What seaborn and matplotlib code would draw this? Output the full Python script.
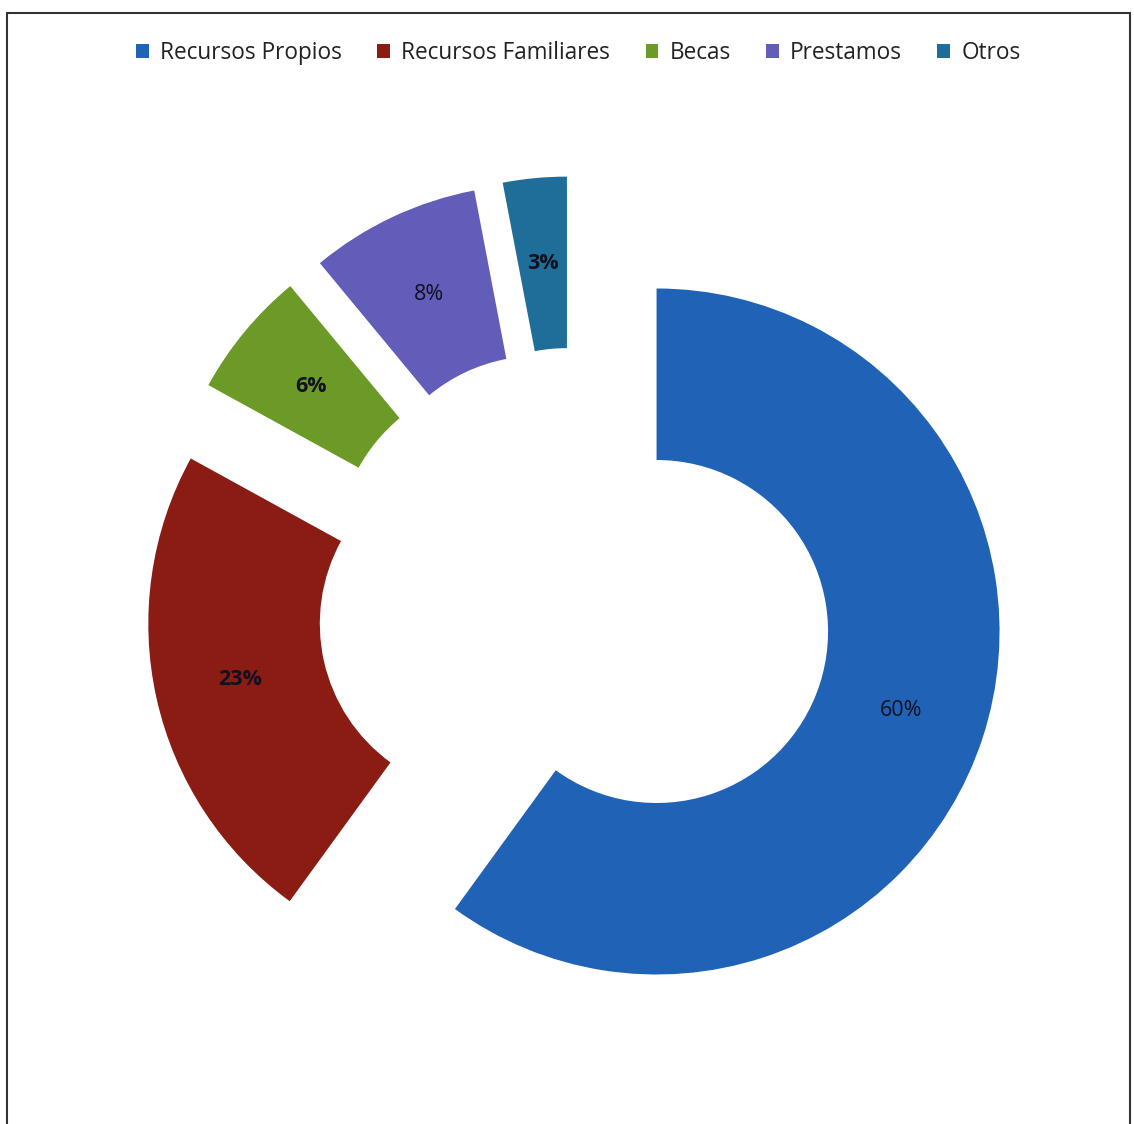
import matplotlib
matplotlib.use("Agg")
import matplotlib.pyplot as plt
import seaborn as sns
from matplotlib.patches import Rectangle

sns.set_theme(style="white")
plt.rcParams['font.family'] = ['Open Sans', 'DejaVu Sans']

categories = ["Recursos Propios", "Recursos Familiares", "Becas", "Prestamos", "Otros"]
values = [60, 23, 6, 8, 3]
labels_txt = ["60%", "23%", "6%", "8%", "3%"]
colors = ["#2062B6", "#8A1C14", "#6C9A26", "#615DB8", "#1F6E9A"]
bold = [False, True, True, False, True]

W, H = 1134, 1124
fig = plt.figure(figsize=(W / 100, H / 100), dpi=100)
fig.patch.set_facecolor("white")

cx, cy, R, L = 575, 605, 343, 500
ax = fig.add_axes([(cx - L) / W, (H - cy - L) / H, 2 * L / W, 2 * L / H])
wedges, texts, autotexts = ax.pie(
    values, colors=colors, startangle=90, counterclock=False,
    explode=[0.25] * len(values), radius=1.0,
    wedgeprops=dict(width=0.5, edgecolor="none"),
    autopct=lambda p: "", pctdistance=0.75,
)
for t, s, b in zip(autotexts, labels_txt, bold):
    t.set_text(s)
    t.set_fontsize(15.5)
    t.set_color("#101020")
    t.set_fontweight("bold" if b else "normal")
lim = L / R
ax.set_xlim(-lim, lim)
ax.set_ylim(-lim, lim)
ax.set_aspect("equal")
ax.axis("off")

leg = fig.legend(wedges, categories, loc="center", bbox_to_anchor=(0.51, 1 - 53 / H),
                 ncol=5, frameon=False, fontsize=16.3, handlelength=0.55, handleheight=0.55,
                 handletextpad=0.5, columnspacing=1.57)
for t in leg.get_texts():
    t.set_color("#222222")

fig.patches.append(Rectangle((7 / W, -0.01), (1130 - 7) / W, 1 - 13 / H + 0.01,
                             transform=fig.transFigure, fill=False,
                             edgecolor="#333333", linewidth=1.5))

fig.savefig("out.png", dpi=100, facecolor="white")
